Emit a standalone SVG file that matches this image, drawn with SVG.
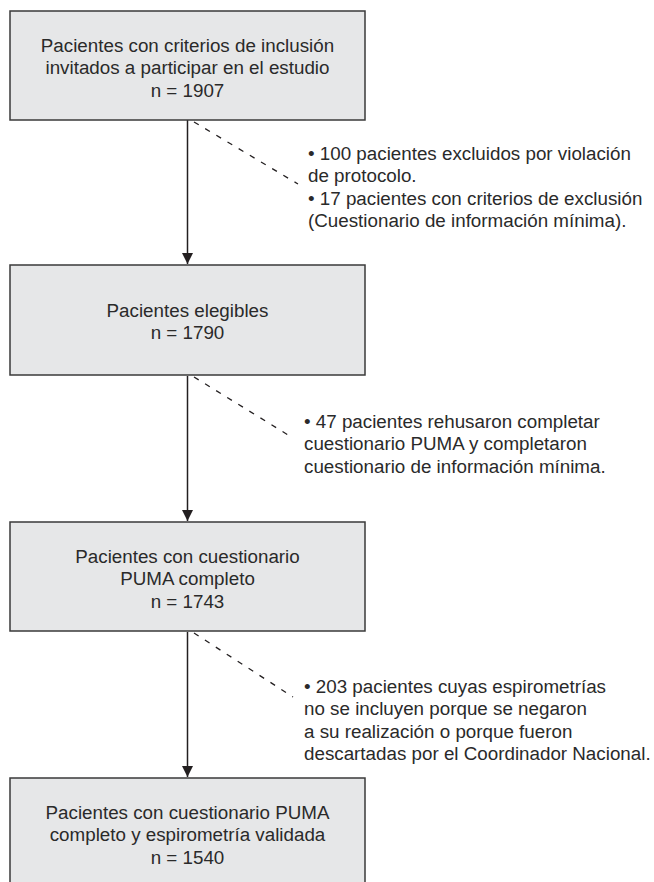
<svg xmlns="http://www.w3.org/2000/svg" width="654" height="882" viewBox="0 0 654 882">
<defs>
<marker id="ah" markerWidth="12" markerHeight="12" refX="11" refY="6" orient="auto" markerUnits="userSpaceOnUse">
<path d="M0,0.5 L11,6 L0,11.5 Z" fill="#231f20"/>
</marker>
</defs>
<style>
.box{fill:#e6e7e8;stroke:#3a3a3a;stroke-width:1.5}
.t{font-family:"Liberation Sans",Arial,sans-serif;font-size:18.8px;fill:#2a2a2a}
.c{text-anchor:middle}
.arr{stroke:#231f20;stroke-width:1.5;fill:none}
.dash{stroke:#231f20;stroke-width:1.3;stroke-dasharray:5.5 7.5;fill:none}
</style>
<rect width="654" height="882" fill="#ffffff"/>
<g id="connectors">
<line class="arr" x1="187.5" y1="120" x2="187.5" y2="264" marker-end="url(#ah)"/>
<line class="arr" x1="187.5" y1="376" x2="187.5" y2="521" marker-end="url(#ah)"/>
<line class="arr" x1="187.5" y1="632" x2="187.5" y2="777" marker-end="url(#ah)"/>
<line class="dash" x1="194" y1="122" x2="298" y2="184"/>
<line class="dash" x1="194" y1="377" x2="293" y2="438"/>
<line class="dash" x1="194" y1="633" x2="293" y2="697"/>
</g>
<g id="box1">
<rect class="box" x="10" y="11" width="355" height="109"/>
<text class="t c" x="187.5" y="51.5">Pacientes con criterios de inclusión</text>
<text class="t c" x="187.5" y="74">invitados a participar en el estudio</text>
<text class="t c" x="187.5" y="96.5">n = 1907</text>
</g>
<g id="note1">
<text class="t" x="308" y="159.5">• 100 pacientes excluidos por violación</text>
<text class="t" x="308" y="182">de protocolo.</text>
<text class="t" x="308" y="204.5">• 17 pacientes con criterios de exclusión</text>
<text class="t" x="308" y="227">(Cuestionario de información mínima).</text>
</g>
<g id="box2">
<rect class="box" x="10" y="265" width="355" height="110"/>
<text class="t c" x="187.5" y="316.5">Pacientes elegibles</text>
<text class="t c" x="187.5" y="339">n = 1790</text>
</g>
<g id="note2">
<text class="t" x="304" y="427.5">• 47 pacientes rehusaron completar</text>
<text class="t" x="304" y="450">cuestionario PUMA y completaron</text>
<text class="t" x="304" y="472.5">cuestionario de información mínima.</text>
</g>
<g id="box3">
<rect class="box" x="10" y="522" width="355" height="109"/>
<text class="t c" x="187.5" y="562.5">Pacientes con cuestionario</text>
<text class="t c" x="187.5" y="585">PUMA completo</text>
<text class="t c" x="187.5" y="607.5">n = 1743</text>
</g>
<g id="note3">
<text class="t" x="304" y="692.5">• 203 pacientes cuyas espirometrías</text>
<text class="t" x="304" y="715">no se incluyen porque se negaron</text>
<text class="t" x="304" y="737.5">a su realización o porque fueron</text>
<text class="t" x="304" y="760">descartadas por el Coordinador Nacional.</text>
</g>
<g id="box4">
<rect class="box" x="10" y="778" width="355" height="115"/>
<text class="t c" x="187.5" y="818.5">Pacientes con cuestionario PUMA</text>
<text class="t c" x="187.5" y="841">completo y espirometría validada</text>
<text class="t c" x="187.5" y="863.5">n = 1540</text>
</g>
</svg>
